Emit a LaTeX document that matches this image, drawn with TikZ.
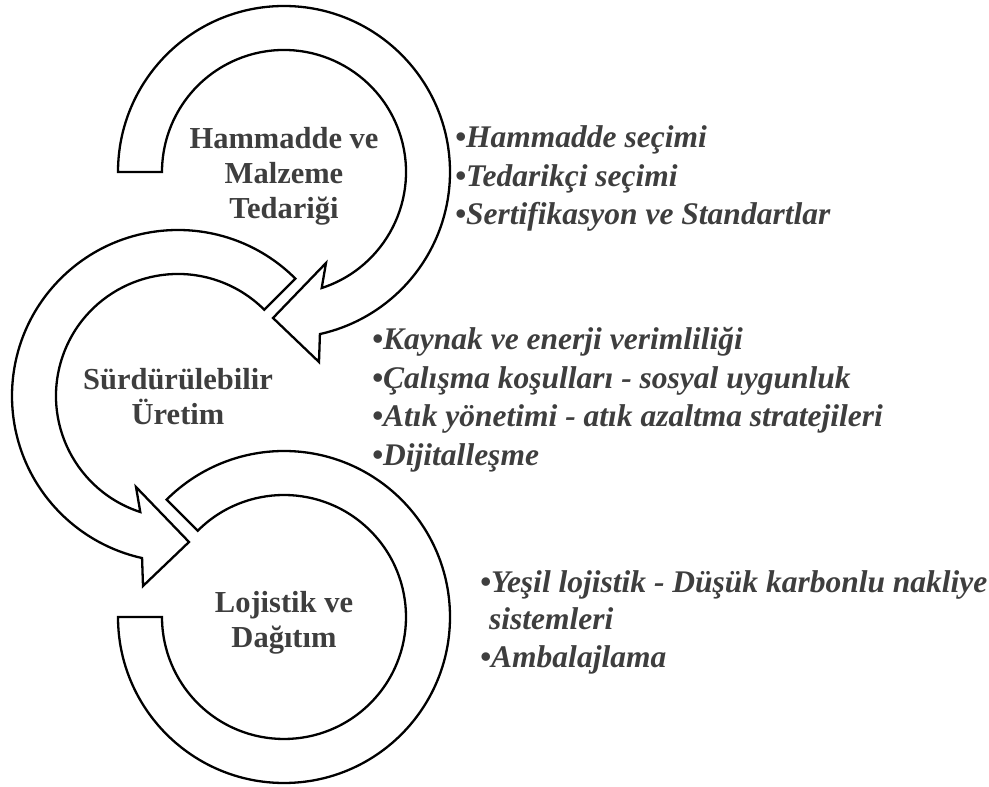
\documentclass[tikz,border=0pt]{standalone}
\usepackage{fontspec}
\setmainfont{Liberation Serif}
\usetikzlibrary{calc}
\definecolor{txt}{HTML}{3E3E3E}
\begin{document}
\begin{tikzpicture}[x=1pt,y=1pt,
  ring/.style={draw=black, fill=white, line width=2.3pt, line join=miter},
  lbl/.style={font=\fontsize{30.5}{35}\selectfont\bfseries, text=txt, anchor=base, inner sep=0pt},
  itm/.style={font=\fontsize{31.5}{37}\selectfont\bfseries\itshape, text=txt, anchor=base west, inner sep=0pt}]
\useasboundingbox (0,0) rectangle (989,787);
\coordinate (c1) at (284,615);
\coordinate (c2) at (178,391);
\coordinate (c3) at (284,170);

% ring 3 (bottom, no arrowhead)
\draw[ring] ($(c3)+(180:166)$) arc[start angle=180, end angle=495, radius=166]
  -- ($(c3)+(135:122)$) arc[start angle=495, end angle=180, radius=122] -- cycle;

% ring 2 (middle)
\draw[ring] ($(c2)+(45:166)$) arc[start angle=45, end angle=257.5, radius=166]
  -- ($(c2)+(-35,-190)$) -- ($(c2)+(11,-146)$) -- ($(c2)+(-42,-91)$)
  -- ($(c2)+(252:122)$) arc[start angle=252, end angle=45, radius=122] -- cycle;

% ring 1 (top)
\draw[ring] ($(c1)+(180:166)$) arc[start angle=180, end angle=-77.5, radius=166]
  -- ($(c1)+(35,-190)$) -- ($(c1)+(-11,-146)$) -- ($(c1)+(42,-91)$)
  -- ($(c1)+(-72:122)$) arc[start angle=-72, end angle=180, radius=122] -- cycle;

% labels
\node[lbl] (l1a) at (284,638) {Hammadde ve};
\node[lbl] (l1b) at (284,603) {Malzeme};
\node[lbl] (l1c) at (284,568) {Tedariği};
\node[lbl] (l2a) at (178,397) {Sürdürülebilir};
\node[lbl] (l2b) at (178,362) {Üretim};
\node[lbl] (l3a) at (284,174) {Lojistik ve};
\node[lbl] (l3b) at (284,139) {Dağıtım};

% list 1
\node[itm] (a1) at (455,639) {•Hammadde seçimi};
\node[itm] (a2) at (455,600.5) {•Tedarikçi seçimi};
\node[itm] (a3) at (455,562) {•Sertifikasyon ve Standartlar};
% list 2
\node[itm] (b1) at (372,437) {•Kaynak ve enerji verimliliği};
\node[itm] (b2) at (372,398.5) {•Çalışma koşulları - sosyal uygunluk};
\node[itm] (b3) at (372,360) {•Atık yönetimi - atık azaltma stratejileri};
\node[itm] (b4) at (372,321.5) {•Dijitalleşme};
% list 3
\node[itm] (d1) at (480,194) {•Yeşil lojistik - Düşük karbonlu nakliye};
\node[itm] (d2) at (489,157) {sistemleri};
\node[itm] (d3) at (480,119) {•Ambalajlama};
\end{tikzpicture}
\end{document}
